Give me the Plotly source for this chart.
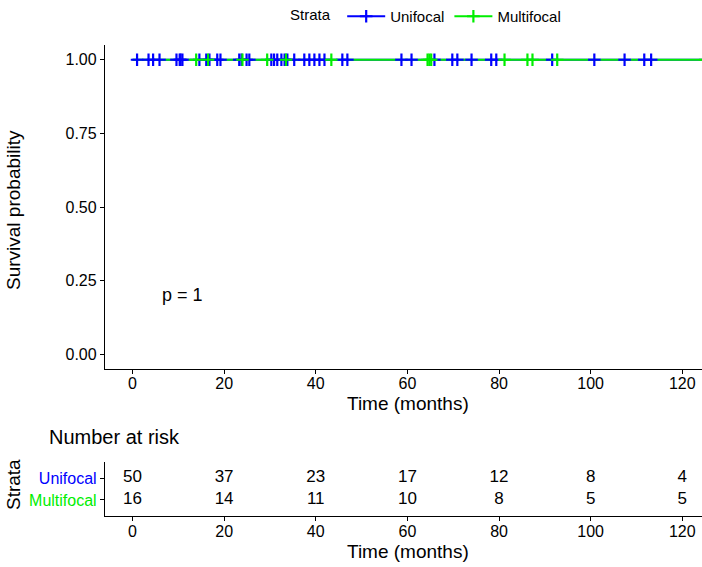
import plotly.graph_objects as go

# ---------------- data ----------------
strata = ["Unifocal", "Multifocal"]
strata_colors = ["#0000FF", "#00EE00"]

# censoring times (months); no events occurred -> survival stays 1.0
unifocal_censor = [1.0, 3.5, 4.5, 5.9, 9.6, 10.3, 10.9, 14.6, 16.1, 16.8, 18.5, 19.2, 10.5,
                   23.3, 23.8, 24.9, 25.5, 30.3, 30.9, 31.6, 32.5, 33.2, 33.8, 35.3, 37.5,
                   38.6, 39.7, 40.8, 41.9, 45.8, 46.9, 58.7, 60.9, 65.9, 69.8, 70.9, 74.0,
                   78.3, 79.4, 91.6, 100.8, 107.4, 111.7, 113.2,
                   126.0, 130.0, 135.0, 142.0]
multifocal_censor = [13.9, 16.5, 24.0, 29.4, 33.5, 43.4, 64.4, 64.8, 65.2, 81.2, 86.2,
                     87.3, 92.7, 125.0, 128.0, 133.0, 138.0, 145.0]
survival_level = 1.0

risk_times = [0, 20, 40, 60, 80, 100, 120]
unifocal_risk = [50, 37, 23, 17, 12, 8, 4]
multifocal_risk = [16, 14, 11, 10, 8, 5, 5]

x_ticks = [0, 20, 40, 60, 80, 100, 120]
y_ticks = [0.0, 0.25, 0.50, 0.75, 1.00]
y_ticktext = ["0.00", "0.25", "0.50", "0.75", "1.00"]
p_value_text = "p = 1"

# ---------------- figure ----------------
W, H = 702, 567
FONT = "Liberation Sans, Arial, sans-serif"

def px_x(p):
    return p / W

def px_y(p):
    return 1 - p / H

censors = [unifocal_censor, multifocal_censor]
risks = [unifocal_risk, multifocal_risk]

fig = go.Figure()

# survival step lines
for name, col, cen in zip(strata, strata_colors, censors):
    fig.add_trace(go.Scatter(
        x=[0, max(cen)], y=[survival_level, survival_level],
        mode="lines", line=dict(color=col, width=2, shape="hv"),
        showlegend=False, hoverinfo="skip", xaxis="x", yaxis="y"))

# censor marks
for name, col, cen in zip(strata, strata_colors, censors):
    fig.add_trace(go.Scatter(
        x=cen, y=[survival_level] * len(cen), mode="markers",
        marker=dict(symbol="cross-thin", size=9, color=col, line=dict(width=2.2, color=col)),
        showlegend=False, xaxis="x", yaxis="y"))

# legend entries
for name, col in zip(strata, strata_colors):
    fig.add_trace(go.Scatter(
        x=[None], y=[None], mode="lines+markers", name=name,
        line=dict(color=col, width=2),
        marker=dict(symbol="cross-thin", size=9, color=col, line=dict(width=2.2, color=col)),
        xaxis="x", yaxis="y"))

# risk table numbers
row_pos = {"Unifocal": 2, "Multifocal": 1}
for name, rk in zip(strata, risks):
    fig.add_trace(go.Scatter(
        x=risk_times, y=[row_pos[name]] * len(risk_times), mode="text",
        text=[str(v) for v in rk], textfont=dict(size=17, color="black", family=FONT),
        showlegend=False, xaxis="x2", yaxis="y2"))

axis_style = dict(showline=True, linecolor="black", linewidth=1.3, ticks="outside",
                  ticklen=4, tickwidth=1.3, tickcolor="black", showgrid=False,
                  zeroline=False, automargin=False,
                  tickfont=dict(size=16, color="black", family=FONT))

x_dom = [px_x(105), 1.0]
x_range = [-6, 124.3]

fig.update_layout(
    template="none",
    width=W, height=H,
    margin=dict(l=0, r=0, t=0, b=0, pad=0),
    paper_bgcolor="white", plot_bgcolor="white",
    font=dict(family=FONT, color="black"),
    xaxis=dict(domain=x_dom, range=x_range, tickvals=x_ticks, anchor="y",
               ticklabelstandoff=-4, **axis_style),
    yaxis=dict(domain=[px_y(369), px_y(45)], range=[-0.05, 1.05], tickvals=y_ticks,
               ticktext=y_ticktext, anchor="x", **axis_style),
    xaxis2=dict(domain=x_dom, range=x_range, tickvals=x_ticks, anchor="y2",
                ticklabelstandoff=-3, **axis_style),
    yaxis2=dict(domain=[px_y(516), px_y(462)], range=[0.27, 2.73],
                tickvals=[row_pos[s] for s in strata],
                ticktext=[f"<span style='color:{c}'>{s}</span>" for s, c in zip(strata, strata_colors)],
                anchor="x2", **{**axis_style, "tickfont": dict(size=16, family=FONT)}),
    legend=dict(orientation="h", x=px_x(288), xanchor="left", y=1.0, yanchor="top",
                title=dict(text="Strata ", side="left", font=dict(size=15, color="black")),
                font=dict(size=15, color="black", family=FONT), itemwidth=38,
                bgcolor="rgba(0,0,0,0)"),
)

annots = [
    dict(text="Survival probability", x=px_x(13), y=px_y(210), textangle=-90, size=19),
    dict(text="Time (months)", x=px_x(408), y=px_y(403), textangle=0, size=19),
    dict(text="Strata", x=px_x(13), y=px_y(485), textangle=-90, size=19),
    dict(text="Time (months)", x=px_x(408), y=px_y(551), textangle=0, size=19),
]
for a in annots:
    fig.add_annotation(text=a["text"], x=a["x"], y=a["y"], xref="paper", yref="paper",
                       textangle=a["textangle"], showarrow=False,
                       font=dict(size=a["size"], color="black", family=FONT),
                       xanchor="center", yanchor="middle")

fig.add_annotation(text="Number at risk", x=px_x(47), y=px_y(437), xref="paper", yref="paper",
                   showarrow=False, xanchor="left", yanchor="middle",
                   font=dict(size=20, color="black", family=FONT))

fig.add_annotation(text=p_value_text, x=11, y=0.2, xref="x", yref="y", showarrow=False,
                   xanchor="center", yanchor="middle",
                   font=dict(size=18, color="black", family=FONT))

fig.write_html("out.html", config={"displayModeBar": False},
               post_script="document.body.style.margin='0px';document.body.style.padding='0px';")
